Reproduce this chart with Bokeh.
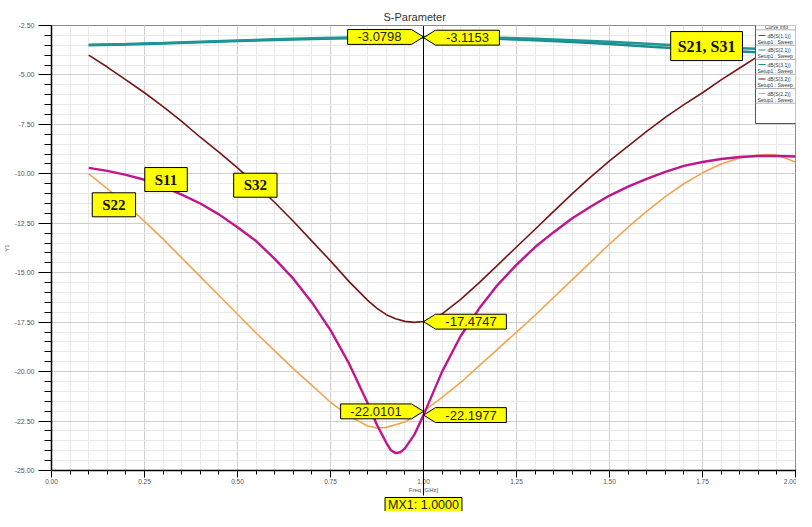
from bokeh.plotting import figure
from bokeh.models import (Label, Span, BoxAnnotation, NumeralTickFormatter,
                          SingleIntervalTicker, FixedTicker, LinearAxis, Title,
                          CustomJSTickFormatter, Range1d)
from bokeh.embed import file_html
from bokeh.resources import INLINE

# ---------------- data ----------------
freq_s32 = [0.10, 0.15, 0.20, 0.25, 0.30, 0.35, 0.40, 0.45, 0.50, 0.55, 0.60,
            0.65, 0.70, 0.75, 0.80, 0.85, 0.875, 0.90, 0.925, 0.95, 0.975, 1.00,
            1.025, 1.05, 1.10, 1.15, 1.20, 1.25, 1.30, 1.35, 1.40, 1.45, 1.50,
            1.55, 1.60, 1.65, 1.70, 1.75, 1.80, 1.85, 1.90, 1.95, 2.00]
s32 = [-4.00, -4.60, -5.25, -5.90, -6.60, -7.35, -8.15, -8.90, -9.70, -10.55,
       -11.45, -12.40, -13.40, -14.40, -15.45, -16.40, -16.80, -17.12, -17.33,
       -17.46, -17.51, -17.47, -17.33, -17.08, -16.35, -15.50, -14.60, -13.70,
       -12.80, -11.90, -11.00, -10.15, -9.35, -8.60, -7.85, -7.15, -6.50, -5.90,
       -5.25, -4.65, -4.05, -3.50, -3.00]

freq_s11 = [0.10, 0.15, 0.20, 0.25, 0.30, 0.35, 0.40, 0.45, 0.50, 0.55, 0.60,
            0.65, 0.70, 0.75, 0.80, 0.85, 0.875, 0.90, 0.9125, 0.925, 0.9375,
            0.95, 0.975, 1.00, 1.025, 1.05, 1.10, 1.15, 1.20, 1.25, 1.30, 1.35,
            1.40, 1.45, 1.50, 1.55, 1.60, 1.65, 1.70, 1.75, 1.80, 1.85, 1.90,
            1.95, 2.00]
s11 = [-9.70, -9.85, -10.05, -10.30, -10.65, -11.05, -11.50, -12.05, -12.70,
       -13.40, -14.30, -15.30, -16.50, -17.90, -19.60, -21.60, -22.70, -23.60,
       -23.98, -24.12, -24.08, -23.88, -23.20, -22.20, -21.10, -20.00, -18.20,
       -16.80, -15.60, -14.60, -13.70, -12.95, -12.25, -11.65, -11.10, -10.65,
       -10.25, -9.90, -9.60, -9.40, -9.25, -9.15, -9.10, -9.10, -9.12]

freq_s22 = [0.10, 0.15, 0.20, 0.25, 0.30, 0.35, 0.40, 0.45, 0.50, 0.55, 0.60,
            0.65, 0.70, 0.75, 0.80, 0.85, 0.875, 0.90, 0.95, 1.00, 1.05, 1.10,
            1.15, 1.20, 1.25, 1.30, 1.35, 1.40, 1.45, 1.50, 1.55, 1.60, 1.65,
            1.70, 1.75, 1.80, 1.85, 1.90, 1.925, 1.95, 2.00]
s22 = [-10.00, -10.75, -11.55, -12.40, -13.30, -14.25, -15.20, -16.15, -17.10,
       -18.05, -18.95, -19.85, -20.70, -21.55, -22.25, -22.75, -22.85, -22.82,
       -22.55, -22.01, -21.30, -20.55, -19.70, -18.85, -18.00, -17.15, -16.25,
       -15.35, -14.45, -13.55, -12.70, -11.90, -11.15, -10.50, -9.95, -9.50,
       -9.20, -9.05, -9.02, -9.05, -9.40]

freq_t = [0.1, 0.2, 0.3, 0.4, 0.5, 0.6, 0.7, 0.8, 0.9, 1.0, 1.1, 1.2, 1.3, 1.4,
          1.5, 1.6, 1.7, 1.8, 1.9, 2.0]
s21 = [-3.47, -3.43, -3.38, -3.32, -3.26, -3.20, -3.15, -3.11, -3.09, -3.08,
       -3.09, -3.12, -3.17, -3.24, -3.32, -3.42, -3.53, -3.62, -3.68, -3.72]
s31 = [-3.50, -3.46, -3.41, -3.35, -3.29, -3.23, -3.18, -3.14, -3.12, -3.115,
       -3.13, -3.17, -3.24, -3.33, -3.44, -3.56, -3.68, -3.78, -3.85, -3.90]

marker_freq = 1.0
marker_vals = [-3.0798, -3.1153, -17.4747, -22.0101, -22.1977]
marker_texts = ["-3.0798", "-3.1153", "-17.4747", "-22.0101", "-22.1977"]
marker_sides = [-1, 1, 1, -1, 1]

legend_names = ["dB(S(1,1))", "dB(S(2,1))", "dB(S(3,1))", "dB(S(3,2))", "dB(S(2,2))"]

# ---------------- layout ----------------
W, H = 796, 511
BL, BR, BT, BB = 50, 1, 25, 37
FW = W - BL - BR
FH = H - BT - BB
X0, X1 = 0.0, 2.0
Y0, Y1 = -25.0, -2.5
SX = FW / (X1 - X0)
SY = FH / (Y1 - Y0)

C_S11 = "#C0168C"
C_S21 = "#1F9696"
C_S31 = "#1A8C8C"
C_S32 = "#761515"
C_S22 = "#F3A451"
FONT = "Liberation Sans"

p = figure(width=W, height=H, x_range=Range1d(X0, X1), y_range=Range1d(Y0, Y1),
           output_backend="svg", toolbar_location=None, title="S-Parameter",
           min_border_left=BL, min_border_right=BR, min_border_top=BT,
           min_border_bottom=BB)
p.background_fill_color = "white"
p.border_fill_color = "white"
p.outline_line_color = "#8a8a8a"
p.outline_line_width = 1

p.title.align = "left"
p.title.offset = 332
p.title.standoff = 6
p.title.text_font = FONT
p.title.text_font_size = "11px"
p.title.text_font_style = "normal"
p.title.text_color = "#333333"

for ax, interval in ((p.xaxis, 0.25), (p.yaxis, 2.5)):
    ax.ticker = SingleIntervalTicker(interval=interval, num_minor_ticks=5)
    ax.formatter = NumeralTickFormatter(format="0.00")
    ax.axis_line_color = "black"
    ax.axis_line_width = 1.5
    ax.major_tick_line_color = "black"
    ax.minor_tick_line_color = "black"
    ax.major_tick_in = 0
    ax.minor_tick_in = 0
    ax.major_label_text_font = FONT
    ax.major_label_text_color = "#555555"
    ax.axis_label_text_font = FONT
    ax.axis_label_text_font_size = "6px"
    ax.axis_label_text_font_style = "normal"
    ax.axis_label_text_color = "#555555"

p.yaxis.major_tick_out = 13
p.yaxis.minor_tick_out = 7
p.yaxis.major_label_text_font_size = "7px"
p.yaxis.major_label_standoff = 4
p.yaxis.axis_label = "Y1"
p.yaxis.axis_label_standoff = 2

p.xaxis.major_tick_out = 7
p.xaxis.minor_tick_out = 4
p.xaxis.major_label_text_font_size = "6.5px"
p.xaxis.major_label_standoff = 1
p.xaxis.axis_label = "Freq [GHz]"
p.xaxis.axis_label_standoff = 0

for g in (p.xgrid, p.ygrid):
    g.grid_line_color = "#cfcfcf"
    g.grid_line_width = 1
    g.minor_grid_line_color = "#e9e9e9"
    g.minor_grid_line_width = 1

# marker line continuing below the frame, down to the MX1 box
mk_axis = LinearAxis(ticker=FixedTicker(ticks=[marker_freq], minor_ticks=[]),
                     formatter=CustomJSTickFormatter(code="return ''"),
                     axis_line_alpha=0, major_tick_in=26, major_tick_out=0,
                     major_tick_line_color="black", major_tick_line_width=1,
                     major_label_text_font_size="1px", major_label_standoff=0)
p.add_layout(mk_axis, "below")
p.add_layout(Title(text="MX1: 1.0000", align="center", text_font=FONT,
                   text_font_size="12.5px", text_font_style="normal",
                   text_color="#222222", background_fill_color="#FFFF00",
                   border_line_color="black", border_line_width=1,
                   standoff=0, padding=(3, 0)), "below")

# ---------------- curves ----------------
p.line(freq_t, s31, line_color=C_S31, line_width=2.5)
p.line(freq_t, s21, line_color=C_S21, line_width=2.5)
p.line(freq_s32, s32, line_color=C_S32, line_width=1.6)
p.line(freq_s22, s22, line_color=C_S22, line_width=1.6)
p.line(freq_s11, s11, line_color=C_S11, line_width=2.4)

p.add_layout(Span(location=marker_freq, dimension="height", line_color="black",
                  line_width=1))

# marker value tags
TIP, HH = 12, 7.5
for val, txt, side in zip(marker_vals, marker_texts, marker_sides):
    w = 7 * len(txt) + 15
    xs_px = [0, side * TIP, side * (TIP + w), side * (TIP + w), side * TIP]
    ys_px = [0, HH, HH, -HH, -HH]
    p.patch([marker_freq + x / SX for x in xs_px], [val + y / SY for y in ys_px],
            fill_color="#FFFF00", line_color="black", line_width=1)
    p.add_layout(Label(x=marker_freq, y=val, x_offset=side * (TIP + w / 2), text=txt,
                       text_align="center", text_baseline="middle",
                       text_font=FONT, text_font_size="13px",
                       text_color="#222222"))

# curve name tags
tags = [("S11", 0.3079, -10.289, 15, (10, 4)),
        ("S22", 0.1678, -11.565, 15, (10, 4)),
        ("S32", 0.548, -10.576, 15, (10, 4)),
        ("S21, S31", 1.761, -3.54, 16, (7, 6))]
for txt, fx, fy, fs, pad in tags:
    p.add_layout(Label(x=fx, y=fy, text=txt, text_align="center",
                       text_baseline="middle", text_font="Liberation Serif",
                       text_font_style="bold", text_font_size=f"{fs}px",
                       text_color="#111111", background_fill_color="#FFFF00",
                       border_line_color="black", border_line_width=1, padding=pad))

# ---------------- curve info box (inside the frame, top right) ----------------
def sbox(l, r, b, t, color, line=None):
    return BoxAnnotation(left=l, right=r, bottom=b, top=t, left_units="screen",
                         right_units="screen", bottom_units="screen", top_units="screen",
                         fill_color=color, fill_alpha=1, line_color=line,
                         line_alpha=1 if line else 0, line_width=1, level="overlay")

TOP = FH - 1
p.add_layout(sbox(704, 747, TOP - 101, TOP, "white", "#555555"))
p.add_layout(Label(x=725, y=TOP - 4, x_units="screen", y_units="screen", text="Curve Info",
                   text_align="center", text_baseline="middle", text_font=FONT,
                   text_font_size="5px", text_color="#333333", level="overlay"))
p.add_layout(sbox(704, 747, TOP - 7.8, TOP - 7, "#999999"))
legend_colors = [C_S11, C_S21, C_S31, C_S32, C_S22]
for i, (nm, col) in enumerate(zip(legend_names, legend_colors)):
    yd = TOP - 13 - 14.5 * i
    ys = TOP - 19 - 14.5 * i
    p.add_layout(sbox(707, 714, yd - 0.6, yd + 0.6, col))
    p.add_layout(Label(x=716, y=yd, x_units="screen", y_units="screen", text=nm,
                       text_align="left", text_baseline="middle", text_font=FONT,
                       text_font_size="5px", text_color="#333333", level="overlay"))
    p.add_layout(Label(x=706, y=ys, x_units="screen", y_units="screen",
                       text="Setup1 : Sweep", text_align="left", text_baseline="middle",
                       text_font=FONT, text_font_size="5px", text_color="#333333",
                       level="overlay"))
    p.add_layout(sbox(704, 747, ys - 4, ys - 3.3, "#999999"))

open("out.html", "w").write(file_html(p, INLINE))
